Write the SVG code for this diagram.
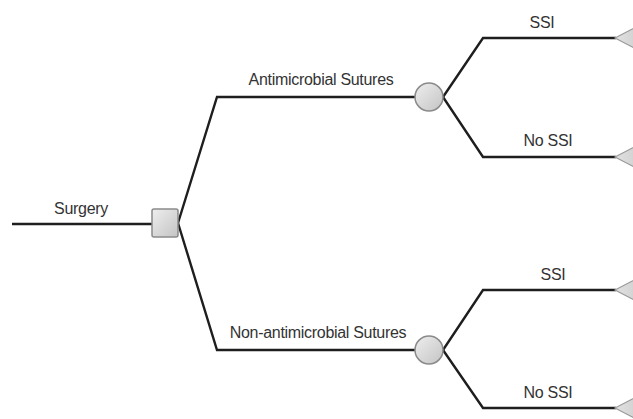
<svg xmlns="http://www.w3.org/2000/svg" width="633" height="419" viewBox="0 0 633 419">
<defs>
<linearGradient id="g" x1="0" y1="0" x2="1" y2="1">
<stop offset="0" stop-color="#eeeeee"/>
<stop offset="1" stop-color="#c4c4c4"/>
</linearGradient>
<linearGradient id="gt" x1="0" y1="0" x2="1" y2="0">
<stop offset="0" stop-color="#e2e2e2"/>
<stop offset="1" stop-color="#d2d2d2"/>
</linearGradient>
</defs>
<style>
.c{fill:none;stroke:#1e1e1e;stroke-width:2.4;stroke-linejoin:miter}
.t{font-family:"Liberation Sans",Arial,sans-serif;font-size:16px;fill:#333;text-anchor:middle;letter-spacing:-0.3px}
.n{fill:url(#g);stroke:#8a8a8a;stroke-width:1.5}
.term{fill:url(#gt);stroke:#9a9a9a;stroke-width:1.2}
</style>
<rect width="633" height="419" fill="#fff"/>
<g id="connectors">
<path class="c" d="M12 224 H152"/>
<path class="c" d="M178 223 L217 97 H415"/>
<path class="c" d="M178 223 L217 350 H415"/>
<path class="c" d="M443 97 L483 38 H616"/>
<path class="c" d="M443 97 L483 157 H616"/>
<path class="c" d="M443 350 L483 290 H616"/>
<path class="c" d="M443 350 L483 408 H616"/>
<text class="t" x="81" y="214">Surgery</text>
<text class="t" x="321" y="85">Antimicrobial Sutures</text>
<text class="t" x="318" y="338">Non-antimicrobial Sutures</text>
<text class="t" x="542" y="28">SSI</text>
<text class="t" x="548" y="146">No SSI</text>
<text class="t" x="553" y="280">SSI</text>
<text class="t" x="548" y="398">No SSI</text>
</g>
<g id="decision">
<rect class="n" x="152" y="209" width="26" height="28" rx="2"/>
</g>
<g id="chance1">
<circle class="n" cx="429" cy="97" r="14"/>
</g>
<g id="chance2">
<circle class="n" cx="429" cy="350" r="14"/>
</g>
<g id="term1"><polygon class="term" points="615,38 636,27 636,49"/></g>
<g id="term2"><polygon class="term" points="615,157 636,146 636,168"/></g>
<g id="term3"><polygon class="term" points="615,290 636,279 636,301"/></g>
<g id="term4"><polygon class="term" points="615,408 636,397 636,419"/></g>
</svg>
